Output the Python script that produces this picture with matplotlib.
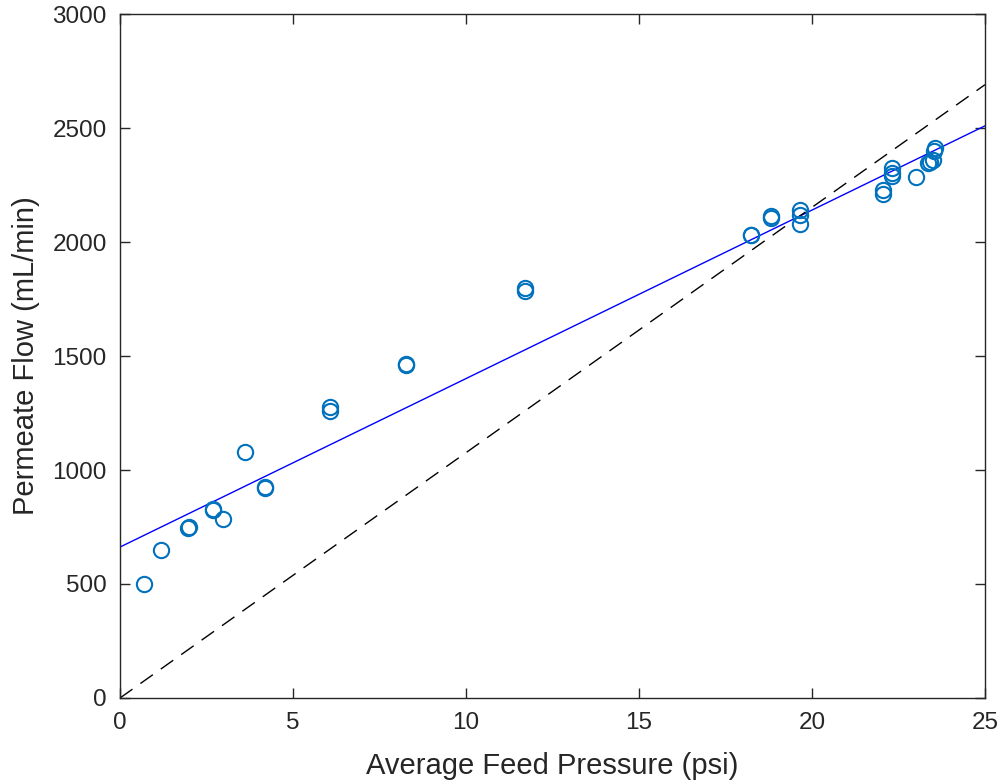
import numpy as np
import matplotlib
matplotlib.use("Agg")
import matplotlib.pyplot as plt

# Data
pressure = [0.70, 1.18, 1.96, 1.98, 2.68, 2.70, 2.97, 3.61, 4.19, 4.20,
            6.07, 6.07, 8.26, 8.27, 11.70, 11.71,
            18.23, 18.24, 18.82, 18.82, 19.65, 19.65, 19.65,
            22.04, 22.04, 22.30, 22.30, 22.31, 23.00,
            23.36, 23.41, 23.49, 23.52, 23.55]
flow = [500, 649, 747, 750, 829, 826, 786, 1077, 922, 925,
        1260, 1275, 1459, 1463, 1785, 1800,
        2029, 2032, 2105, 2115, 2140, 2118, 2079,
        2228, 2210, 2323, 2289, 2301, 2286,
        2345, 2352, 2360, 2400, 2411]

fit_coef = [73.9, 662.0]      # slope, intercept of blue fit line
ref_slope = [107.6]           # dashed reference line through origin

xlim = [0, 25]
ylim = [0, 3000]
xticks = [0, 5, 10, 15, 20, 25]
yticks = [0, 500, 1000, 1500, 2000, 2500, 3000]

plt.rcParams['font.family'] = ['Liberation Sans', 'DejaVu Sans']
text_c = '#262626'

fig = plt.figure(figsize=(10.03, 7.82), dpi=100)
ax = fig.add_axes([120/1003, (782-698)/782, (985-120)/1003, (698-14)/782])

ax.plot(pressure, flow, 'o', mfc='none', mec='#0072BD', ms=11, mew=1.5, zorder=3)

xl = np.array(xlim, dtype=float)
ax.plot(xl, np.polyval(fit_coef, xl), '-', color='#0000FF', lw=1.0, zorder=2)
ax.plot(xl, ref_slope[0] * xl, '--', color='black', lw=1.0, dashes=(11, 7), zorder=2)

ax.set_xlim(xlim)
ax.set_ylim(ylim)
ax.set_xticks(xticks)
ax.set_yticks(yticks)
ax.tick_params(direction='in', length=7, width=1, colors=text_c, labelsize=17.5,
               top=True, right=True)
ax.tick_params(axis='x', pad=10)
ax.tick_params(axis='y', pad=9.5)
for s in ax.spines.values():
    s.set_color(text_c)
    s.set_linewidth(1)
ax.set_xlabel('Average Feed Pressure (psi)', fontsize=21, color=text_c, labelpad=13)
ax.set_ylabel('Permeate Flow (mL/min)', fontsize=21, color=text_c, labelpad=9)

fig.savefig('out.png', dpi=100)
